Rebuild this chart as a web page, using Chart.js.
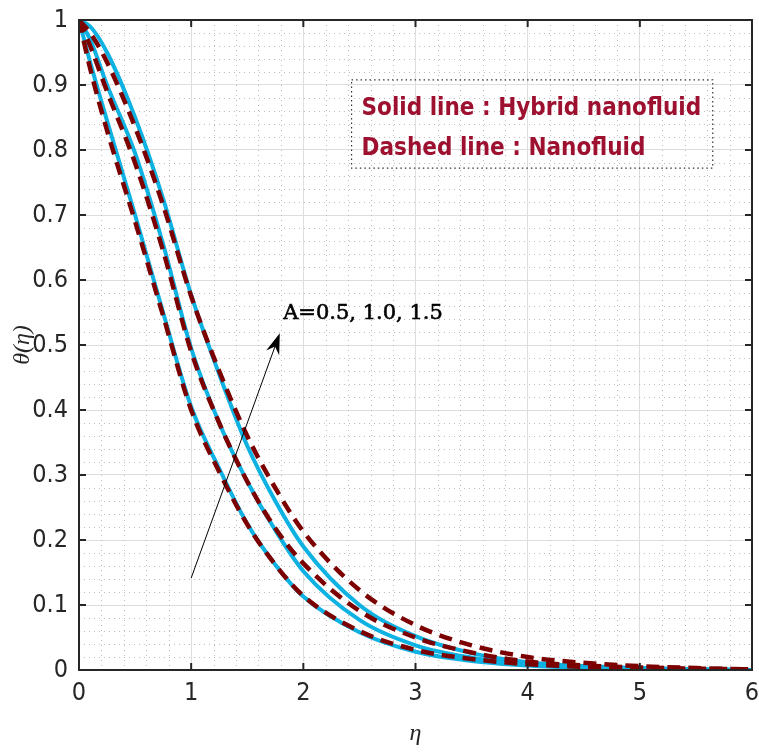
<!DOCTYPE html>
<html>
<head>
<meta charset="utf-8">
<script src="https://cdn.jsdelivr.net/npm/chart.js@4.4.1/dist/chart.umd.min.js"></script>
<style>
    html, body { margin: 0; padding: 0; background: #ffffff; }
    #wrap { width: 759px; height: 752px; }
</style>
</head>
<body>
<div id="wrap"><canvas id="thetaChart" width="759" height="752"></canvas></div>
<script>
const etaValues = [0, 0.1, 0.25, 0.5, 0.75, 1, 1.25, 1.5, 1.75, 2, 2.5, 3, 3.5, 4, 4.5, 5, 5.5, 6];

// Solid lines: hybrid nanofluid, A = 0.5, 1.0, 1.5
const hybridA05 = [1, 0.935, 0.845, 0.70, 0.55, 0.405, 0.31, 0.225, 0.162, 0.113, 0.058, 0.028, 0.014, 0.007, 0.003, 0.001, 0.0005, 0];
const hybridA10 = [1, 0.97, 0.90, 0.795, 0.655, 0.495, 0.38, 0.29, 0.215, 0.152, 0.077, 0.038, 0.019, 0.009, 0.004, 0.002, 0.001, 0];
const hybridA15 = [1, 0.99, 0.95, 0.85, 0.725, 0.577, 0.455, 0.345, 0.26, 0.19, 0.10, 0.052, 0.026, 0.012, 0.006, 0.003, 0.001, 0];

// Dashed lines: nanofluid, A = 0.5, 1.0, 1.5
const nanoA05 = [1, 0.925, 0.83, 0.69, 0.545, 0.40, 0.305, 0.224, 0.162, 0.114, 0.06, 0.031, 0.017, 0.009, 0.005, 0.003, 0.001, 0];
const nanoA10 = [1, 0.96, 0.89, 0.78, 0.645, 0.49, 0.38, 0.29, 0.218, 0.164, 0.091, 0.05, 0.027, 0.013, 0.007, 0.004, 0.002, 0.001];
const nanoA15 = [1, 0.98, 0.935, 0.835, 0.715, 0.575, 0.46, 0.36, 0.28, 0.213, 0.123, 0.069, 0.038, 0.02, 0.011, 0.006, 0.003, 0.001];

const xTicks = [0, 1, 2, 3, 4, 5, 6];
const yTicks = [0, 0.1, 0.2, 0.3, 0.4, 0.5, 0.6, 0.7, 0.8, 0.9, 1];

const legendLines = ['Solid line : Hybrid nanofluid', 'Dashed line : Nanofluid'];
const arrowLabel = 'A=0.5, 1.0, 1.5';

const CYAN = '#0DB1E2';
const DARK_RED = '#7C0000';

function toPoints(ys) {
    return etaValues.map((x, i) => ({ x: x, y: ys[i] }));
}

function solidSet(label, ys) {
    return {
        label: label, data: toPoints(ys), borderColor: CYAN, borderWidth: 4,
        pointRadius: 0, cubicInterpolationMode: 'monotone', order: 2
    };
}

function dashedSet(label, ys) {
    return {
        label: label, data: toPoints(ys), borderColor: DARK_RED, borderWidth: 4.5,
        borderDash: [13, 8], pointRadius: 0, cubicInterpolationMode: 'monotone', order: 1
    };
}

// minor dotted grid, inward ticks, frame and annotations
const decorPlugin = {
    id: 'decor',
    beforeDatasetsDraw(chart) {
        const { ctx, chartArea: a, scales: { x, y } } = chart;
        ctx.save();
        ctx.strokeStyle = '#bdbdbd';
        ctx.lineWidth = 1;
        ctx.setLineDash([1, 4]);
        for (let i = 1; i < 30; i++) {
            if (i % 5 === 0) continue;
            const px = Math.round(x.getPixelForValue(i * 0.2)) + 0.5;
            ctx.beginPath(); ctx.moveTo(px, a.top); ctx.lineTo(px, a.bottom); ctx.stroke();
        }
        for (let i = 1; i < 50; i++) {
            if (i % 5 === 0) continue;
            const py = Math.round(y.getPixelForValue(i * 0.02)) + 0.5;
            ctx.beginPath(); ctx.moveTo(a.left, py); ctx.lineTo(a.right, py); ctx.stroke();
        }
        ctx.restore();
    },
    afterDraw(chart) {
        const { ctx, chartArea: a, scales: { x, y } } = chart;
        ctx.save();
        // frame
        ctx.strokeStyle = '#262626';
        ctx.lineWidth = 2;
        ctx.setLineDash([]);
        ctx.strokeRect(a.left, a.top, a.right - a.left, a.bottom - a.top);
        // inward tick marks
        const tl = 7;
        xTicks.forEach(v => {
            const px = x.getPixelForValue(v);
            ctx.beginPath();
            ctx.moveTo(px, a.bottom); ctx.lineTo(px, a.bottom - tl);
            ctx.moveTo(px, a.top); ctx.lineTo(px, a.top + tl);
            ctx.stroke();
        });
        yTicks.forEach(v => {
            const py = y.getPixelForValue(v);
            ctx.beginPath();
            ctx.moveTo(a.left, py); ctx.lineTo(a.left + tl, py);
            ctx.moveTo(a.right, py); ctx.lineTo(a.right - tl, py);
            ctx.stroke();
        });

        // legend-like text box (dotted)
        const bx0 = x.getPixelForValue(2.43), bx1 = x.getPixelForValue(5.65);
        const by0 = y.getPixelForValue(0.908), by1 = y.getPixelForValue(0.772);
        ctx.lineWidth = 1.2;
        ctx.strokeStyle = '#333333';
        ctx.setLineDash([1.5, 3]);
        ctx.strokeRect(bx0, by0, bx1 - bx0, by1 - by0);
        ctx.setLineDash([]);
        ctx.fillStyle = '#9E1030';
        ctx.font = 'bold 24px "DejaVu Sans Condensed", "DejaVu Sans", sans-serif';
        ctx.textBaseline = 'alphabetic';
        ctx.textAlign = 'left';
        ctx.fillText(legendLines[0], bx0 + 10, by0 + 35);
        ctx.fillText(legendLines[1], bx0 + 10, by0 + 75);

        // arrow
        const ax0 = x.getPixelForValue(1.0), ay0 = y.getPixelForValue(0.1415);
        const ax1 = x.getPixelForValue(1.79), ay1 = y.getPixelForValue(0.518);
        const ang = Math.atan2(ay1 - ay0, ax1 - ax0);
        ctx.strokeStyle = '#000000';
        ctx.fillStyle = '#000000';
        ctx.lineWidth = 1;
        ctx.beginPath();
        ctx.moveTo(ax0, ay0);
        ctx.lineTo(ax1 - 10 * Math.cos(ang), ay1 - 10 * Math.sin(ang));
        ctx.stroke();
        ctx.beginPath();
        ctx.moveTo(ax1, ay1);
        ctx.lineTo(ax1 - 22 * Math.cos(ang - 0.32), ay1 - 22 * Math.sin(ang - 0.32));
        ctx.lineTo(ax1 - 14 * Math.cos(ang), ay1 - 14 * Math.sin(ang));
        ctx.lineTo(ax1 - 22 * Math.cos(ang + 0.32), ay1 - 22 * Math.sin(ang + 0.32));
        ctx.closePath();
        ctx.fill();

        ctx.font = '21px "DejaVu Serif", "Liberation Serif", serif';
        ctx.textBaseline = 'middle';
        ctx.lineWidth = 0.6;
        const lx = x.getPixelForValue(1.82), ly = y.getPixelForValue(0.549);
        ctx.fillText(arrowLabel, lx, ly);
        ctx.strokeText(arrowLabel, lx, ly);
        ctx.restore();
    }
};

const tickFont = { family: '"Liberation Sans Narrow", "DejaVu Sans Condensed", sans-serif', size: 25 };

new Chart(document.getElementById('thetaChart').getContext('2d'), {
    type: 'line',
    data: {
        datasets: [
            solidSet('Hybrid A=0.5', hybridA05),
            solidSet('Hybrid A=1.0', hybridA10),
            solidSet('Hybrid A=1.5', hybridA15),
            dashedSet('Nano A=0.5', nanoA05),
            dashedSet('Nano A=1.0', nanoA10),
            dashedSet('Nano A=1.5', nanoA15)
        ]
    },
    options: {
        responsive: false,
        animation: false,
        layout: { padding: { top: 20, right: 7, left: 0, bottom: 0 } },
        plugins: { legend: { display: false }, tooltip: { enabled: false } },
        scales: {
            x: {
                type: 'linear', min: 0, max: 6,
                afterFit: s => { s.height = 82; s.paddingLeft = 0; s.paddingRight = 0; },
                afterBuildTicks: s => { s.ticks = xTicks.map(v => ({ value: v })); },
                grid: { color: '#dedede', lineWidth: 1, drawTicks: false },
                border: { display: false },
                ticks: { color: '#262626', font: tickFont, padding: 8, maxRotation: 0 },
                title: {
                    display: true, text: 'η', color: '#262626', padding: { top: 0, bottom: 4 },
                    font: { family: '"Liberation Serif", "DejaVu Serif", serif', size: 24, style: 'italic' }
                }
            },
            y: {
                type: 'linear', min: 0, max: 1,
                afterFit: s => { s.width = 79; s.paddingTop = 0; s.paddingBottom = 0; },
                afterBuildTicks: s => { s.ticks = yTicks.map(v => ({ value: v })); },
                grid: { color: '#dedede', lineWidth: 1, drawTicks: false },
                border: { display: false },
                ticks: { color: '#262626', font: tickFont, padding: 11, callback: v => String(Math.round(v * 10) / 10) },
                title: {
                    display: true, text: 'θ(η)', color: '#262626', padding: { top: 8, bottom: 0 },
                    font: { family: '"Liberation Serif", "DejaVu Serif", serif', size: 24, style: 'italic' }
                }
            }
        }
    },
    plugins: [decorPlugin]
});
</script>
</body>
</html>
